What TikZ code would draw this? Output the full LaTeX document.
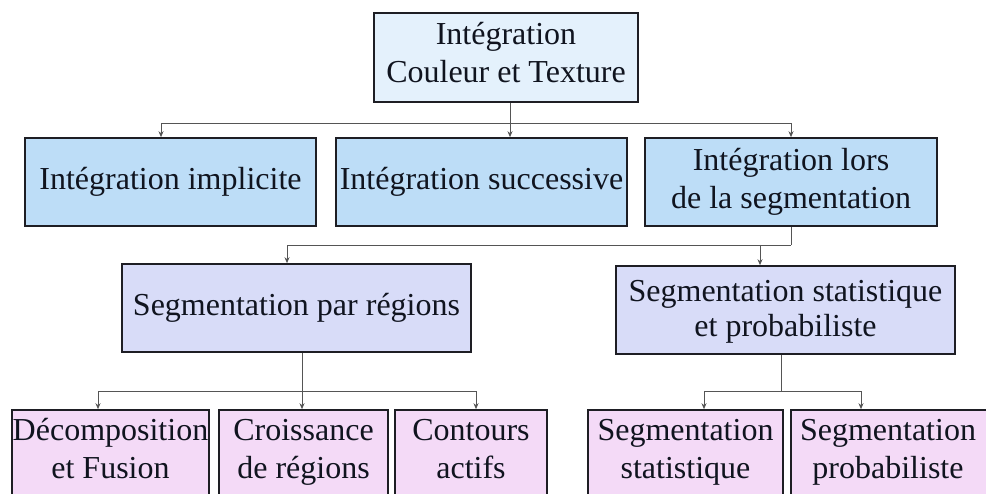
\documentclass[tikz,border=0pt]{standalone}
\usepackage{fontspec}
\setmainfont{Liberation Serif}
\usetikzlibrary{arrows.meta,calc}
\definecolor{cTop}{HTML}{E4F1FC}
\definecolor{cRow2}{HTML}{BDDDF7}
\definecolor{cRow3}{HTML}{D8DCF8}
\definecolor{cRow4}{HTML}{F4DAF7}
\definecolor{cEdge}{HTML}{1E1E24}
\definecolor{cLine}{HTML}{555555}
\definecolor{cText}{HTML}{10141F}
\tikzset{
  boxbase/.style={draw=cEdge, line width=1.6pt, inner sep=0pt, align=center, text=cText,
    font=\fontsize{32}{38}\selectfont},
  topbox/.style={boxbase, fill=cTop},
  rowtwo/.style={boxbase, fill=cRow2},
  rowthree/.style={boxbase, fill=cRow3},
  rowfour/.style={boxbase, fill=cRow4},
  lbl/.style={inner sep=0pt, align=center, text=cText, font=\fontsize{32}{38}\selectfont},
  conn/.style={draw=cLine, line width=0.9pt},
  arr/.style={conn, -{Stealth[length=6pt,width=5pt]}},
}
\begin{document}
\begin{tikzpicture}[x=1pt,y=-1pt]
\clip (0,0) rectangle (986,494);
\fill[white] (0,0) rectangle (986,494);
% top
\node[topbox, minimum width=264, minimum height=89] (top) at (506,57.5) {};
\node[lbl] (toptxt) at (506,53) {Intégration\\Couleur et Texture};
% row 2
\node[rowtwo, minimum width=291, minimum height=88] (ra) at (170.5,182) {Intégration implicite};
\node[rowtwo, minimum width=291, minimum height=88] (rb) at (481.5,182) {Intégration successive};
\node[rowtwo, minimum width=292, minimum height=88] (rc) at (791,182) {Intégration lors\\de la segmentation};
% row 3
\node[rowthree, minimum width=349, minimum height=88] (sa) at (296.5,308) {Segmentation par régions};
\node[rowthree, minimum width=339, minimum height=88] (sb) at (785.5,310) {};
\node[lbl, font=\fontsize{32}{35}\selectfont] (sbtxt) at (785.5,312) {Segmentation statistique\\et probabiliste};
% row 4 boxes
\node[rowfour, minimum width=197, minimum height=120] (ba) at (110.5,470) {};
\node[rowfour, minimum width=169, minimum height=120] (bb) at (303.5,470) {};
\node[rowfour, minimum width=152, minimum height=120] (bc) at (471,470) {};
\node[rowfour, minimum width=195, minimum height=120] (bd) at (685.5,470) {};
\node[rowfour, minimum width=204, minimum height=120] (be) at (893,470) {};
\node[lbl] (ta) at (110.5,449) {Décomposition\\et Fusion};
\node[lbl] (tb) at (303.5,452.5) {Croissance\\de régions};
\node[lbl] (tc) at (471,449) {Contours\\actifs};
\node[lbl] (td) at (685.5,452.5) {Segmentation\\statistique};
\node[lbl] (te) at (888,452.5) {Segmentation\\probabiliste};
% junctions
\coordinate (j1) at (510,123);
\coordinate (j1a) at (161,123);
\coordinate (j2) at (791,245);
\coordinate (j2a) at (287,245);
\coordinate (j2b) at (760,245);
\coordinate (j3) at (302,391);
\coordinate (j3a) at (98,391);
\coordinate (j3b) at (476,391);
\coordinate (j4) at (781,391);
\coordinate (j4a) at (704,391);
\coordinate (j4b) at (861,391);
% connectors
\draw[conn] (top.south -| j1) -- (j1);
\draw[arr] (j1) -- (j1 |- rb.north);
\draw[arr] (j1) -- (j1a) -- (j1a |- ra.north);
\draw[arr] (j1) -| (rc.north);
\draw[conn] (rc.south) -- (j2);
\draw[arr] (j2) -- (j2a) -- (j2a |- sa.north);
\draw[arr] (j2b) -- (j2b |- sb.north);
\draw[conn] (sa.south -| j3) -- (j3);
\draw[arr] (j3) -- (j3 |- bb.north);
\draw[arr] (j3) -- (j3a) -- (j3a |- ba.north);
\draw[arr] (j3) -- (j3b) -- (j3b |- bc.north);
\draw[conn] (sb.south -| j4) -- (j4);
\draw[arr] (j4) -- (j4a) -- (j4a |- bd.north);
\draw[arr] (j4) -- (j4b) -- (j4b |- be.north);
\end{tikzpicture}
\end{document}
